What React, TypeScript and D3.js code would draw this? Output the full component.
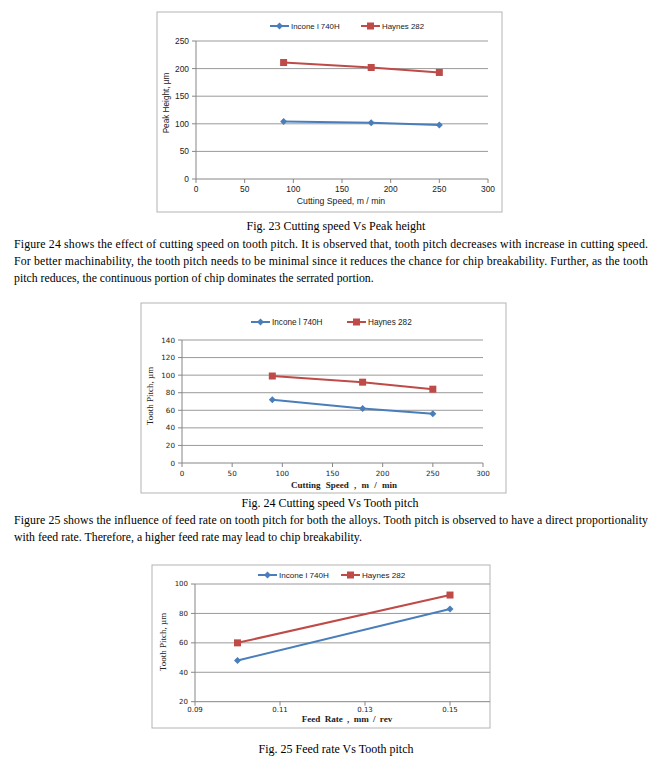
import React from 'react';
import * as d3 from 'd3';

// data
const speedValues = [90, 180, 250];
const peakInconel = [104, 102, 98];
const peakHaynes = [211, 202, 193];
const pitchInconel = [72, 62, 56];
const pitchHaynes = [99, 92, 84];
const feedValues = [0.1, 0.15];
const feedInconel = [48, 83];
const feedHaynes = [60, 92.5];

const speedTicks = [0, 50, 100, 150, 200, 250, 300];
const peakTicks = [0, 50, 100, 150, 200, 250];
const pitchTicks = [0, 20, 40, 60, 80, 100, 120, 140];
const feedTicks = [0.09, 0.11, 0.13, 0.15];
const feedPitchTicks = [20, 40, 60, 80, 100];

const seriesNames = ['Incone l 740H', 'Haynes 282'];
const BLUE = '#4a7ebb';
const RED = '#be4b48';
const GRID = '#9a9a9a';

const para1 = [
  'Figure 24 shows the effect of cutting speed on tooth pitch. It is observed that, tooth pitch decreases with increase in cutting speed.',
  'For better machinability, the tooth pitch needs to be minimal since it reduces the chance for chip breakability. Further, as the tooth',
  'pitch reduces, the continuous portion of chip dominates the serrated portion.',
];
const para2 = [
  'Figure 25 shows the influence of feed rate on tooth pitch for both the alloys. Tooth pitch is observed to have a direct proportionality',
  'with feed rate. Therefore, a higher feed rate may lead to chip breakability.',
];

const SERIF = '"Liberation Serif", "Times New Roman", serif';
const SANS = '"Liberation Sans", Arial, sans-serif';
const WIDE = '"DejaVu Sans", Verdana, sans-serif';

interface ChartProps {
  box: [number, number, number, number];
  xr: [number, number];
  yr: [number, number];
  xDomain: [number, number];
  yDomain: [number, number];
  gridRight: number;
  xTicks: number[];
  yTicks: number[];
  xFmt: (v: number) => string;
  xs: number[];
  inconel: number[];
  haynes: number[];
  legendY: number;
  legendA: number;
  legendB: number;
  legendSize: number;
  tickFont: string;
  tickSize: number;
  xLabelDy: number;
  xTitle: string;
  xTitleAt: [number, number];
  yTitle: string;
  yTitleAt: [number, number];
  titleFont: string;
  titleBold: boolean;
  titleSize: number;
  yTitleSize: number;
  wordSpacing?: number;
}

const Diamond = ({ x, y }: { x: number; y: number }) => (
  <path d={`M${x},${y - 3.5}L${x + 3.5},${y}L${x},${y + 3.5}L${x - 3.5},${y}Z`} fill={BLUE} />
);
const Square = ({ x, y }: { x: number; y: number }) => (
  <rect x={x - 3.5} y={y - 3.5} width={7} height={7} fill={RED} />
);

const Chart: React.FC<ChartProps> = (p) => {
  const x = d3.scaleLinear().domain(p.xDomain).range(p.xr);
  const y = d3.scaleLinear().domain(p.yDomain).range(p.yr);
  const line = d3
    .line<number>()
    .x((_, i) => x(p.xs[i]))
    .y((d) => y(d));
  const [bx, by, bw, bh] = p.box;
  const x0 = p.xr[0];
  const y0 = p.yr[0];
  return (
    <g>
      <rect x={bx} y={by} width={bw} height={bh} fill="#fff" stroke="#b4b4b4" strokeWidth={1} />
      {/* grid + y ticks */}
      {p.yTicks.map((t) => (
        <g key={'y' + t}>
          {t !== p.yDomain[0] && (
            <line x1={x0} x2={p.gridRight} y1={y(t)} y2={y(t)} stroke={GRID} strokeWidth={1} />
          )}
          <line x1={x0 - 4} x2={x0} y1={y(t)} y2={y(t)} stroke="#868686" />
          <text
            x={x0 - 7}
            y={y(t)}
            dy="0.35em"
            textAnchor="end"
            fontFamily={p.tickFont}
            fontSize={p.tickSize}
            fill="#222"
          >
            {t}
          </text>
        </g>
      ))}
      {p.xTicks.map((t) => (
        <g key={'x' + t}>
          <line x1={x(t)} x2={x(t)} y1={y0} y2={y0 + 4} stroke="#868686" />
          <text
            x={x(t)}
            y={y0 + p.xLabelDy}
            dy="0.35em"
            textAnchor="middle"
            fontFamily={p.tickFont}
            fontSize={p.tickSize}
            fill="#222"
          >
            {p.xFmt(t)}
          </text>
        </g>
      ))}
      <line x1={x0} x2={p.gridRight} y1={y0} y2={y0} stroke="#868686" />
      <line x1={x0} x2={x0} y1={y0} y2={p.yr[1]} stroke="#868686" />
      {/* series */}
      <path d={line(p.haynes) || ''} fill="none" stroke={RED} strokeWidth={2} />
      <path d={line(p.inconel) || ''} fill="none" stroke={BLUE} strokeWidth={2} />
      {p.haynes.map((v, i) => (
        <Square key={'h' + i} x={x(p.xs[i])} y={y(v)} />
      ))}
      {p.inconel.map((v, i) => (
        <Diamond key={'i' + i} x={x(p.xs[i])} y={y(v)} />
      ))}
      {/* legend */}
      <line x1={p.legendA} x2={p.legendA + 19} y1={p.legendY} y2={p.legendY} stroke={BLUE} strokeWidth={2} />
      <Diamond x={p.legendA + 9.5} y={p.legendY} />
      <text x={p.legendA + 21} y={p.legendY} dy="0.35em" fontFamily={SANS} fontSize={p.legendSize} fill="#222">
        {seriesNames[0]}
      </text>
      <line x1={p.legendB} x2={p.legendB + 19} y1={p.legendY} y2={p.legendY} stroke={RED} strokeWidth={2} />
      <Square x={p.legendB + 9.5} y={p.legendY} />
      <text x={p.legendB + 21} y={p.legendY} dy="0.35em" fontFamily={SANS} fontSize={p.legendSize} fill="#222">
        {seriesNames[1]}
      </text>
      {/* titles */}
      <text
        x={p.xTitleAt[0]}
        y={p.xTitleAt[1]}
        dy="0.35em"
        textAnchor="middle"
        fontFamily={p.titleFont}
        fontWeight={p.titleBold ? 'bold' : 'normal'}
        fontSize={p.titleSize}
        wordSpacing={p.wordSpacing || 0}
        fill="#222"
      >
        {p.xTitle}
      </text>
      <text
        transform={`translate(${p.yTitleAt[0]},${p.yTitleAt[1]}) rotate(-90)`}
        dy="0.35em"
        textAnchor="middle"
        fontFamily={p.titleFont}
        fontSize={p.yTitleSize}
        fill="#222"
      >
        {p.yTitle}
      </text>
    </g>
  );
};

const Para = ({ lines, y0 }: { lines: string[]; y0: number }) => (
  <g>
    {lines.map((s, i) => (
      <text
        key={i}
        x={14}
        y={y0 + i * 17}
        fontFamily={SERIF}
        fontSize={11.8}
        fill="#000"
        textLength={i < lines.length - 1 ? 634 : undefined}
        lengthAdjust="spacing"
      >
        {s}
      </text>
    ))}
  </g>
);

const Caption = ({ text, x, y }: { text: string; x: number; y: number }) => (
  <text x={x} y={y} textAnchor="middle" fontFamily={SERIF} fontSize={12} fill="#000">
    {text}
  </text>
);

export default function App() {
  return (
    <svg
      width={661}
      height={765}
      style={{ position: 'absolute', left: 0, top: 0, background: '#fff' }}
    >
      <Chart
        box={[157, 12, 345, 200]}
        xr={[196, 488]}
        yr={[179, 41]}
        xDomain={[0, 300]}
        yDomain={[0, 250]}
        gridRight={488}
        xTicks={speedTicks}
        yTicks={peakTicks}
        xFmt={(v) => String(v)}
        xs={speedValues}
        inconel={peakInconel}
        haynes={peakHaynes}
        legendY={26}
        legendA={270}
        legendB={361}
        legendSize={7.9}
        tickFont={SANS}
        tickSize={8.4}
        xLabelDy={10}
        xTitle="Cutting Speed, m / min"
        xTitleAt={[341, 201]}
        yTitle="Peak Height, µm"
        yTitleAt={[166, 103]}
        titleFont={SANS}
        titleBold={false}
        titleSize={8.7}
        yTitleSize={8.2}
      />
      <Caption text="Fig. 23 Cutting speed Vs Peak height" x={336} y={230} />
      <Para lines={para1} y0={248} />

      <Chart
        box={[141, 303, 365, 190]}
        xr={[182, 483]}
        yr={[463, 340]}
        xDomain={[0, 300]}
        yDomain={[0, 140]}
        gridRight={483}
        xTicks={speedTicks}
        yTicks={pitchTicks}
        xFmt={(v) => String(v)}
        xs={speedValues}
        inconel={pitchInconel}
        haynes={pitchHaynes}
        legendY={322}
        legendA={251}
        legendB={347}
        legendSize={8.2}
        tickFont={WIDE}
        tickSize={7.2}
        xLabelDy={10}
        xTitle="Cutting Speed , m / min"
        xTitleAt={[344, 485]}
        yTitle="Tooth Pitch, µm"
        yTitleAt={[150, 396]}
        titleFont={SERIF}
        titleBold={true}
        titleSize={9}
        yTitleSize={9}
        wordSpacing={3}
      />
      <Caption text="Fig. 24 Cutting speed Vs Tooth pitch" x={330} y={507} />
      <Para lines={para2} y0={524} />

      <Chart
        box={[152, 565, 338, 163]}
        xr={[195, 535]}
        yr={[701.7, 584]}
        xDomain={[0.09, 0.17]}
        yDomain={[20, 100]}
        gridRight={490}
        xTicks={feedTicks}
        yTicks={feedPitchTicks}
        xFmt={(v) => d3.format('.2f')(v)}
        xs={feedValues}
        inconel={feedInconel}
        haynes={feedHaynes}
        legendY={575}
        legendA={258}
        legendB={341}
        legendSize={8.1}
        tickFont={WIDE}
        tickSize={7}
        xLabelDy={7.5}
        xTitle="Feed Rate , mm / rev"
        xTitleAt={[347, 719]}
        yTitle="Tooth Pitch, µm"
        yTitleAt={[163, 642]}
        titleFont={SERIF}
        titleBold={true}
        titleSize={9.1}
        yTitleSize={9}
        wordSpacing={2}
      />
      <Caption text="Fig. 25 Feed rate Vs Tooth pitch" x={336} y={753} />
    </svg>
  );
}
